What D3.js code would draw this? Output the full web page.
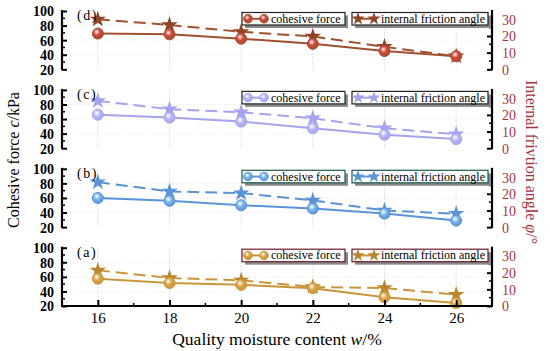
<!DOCTYPE html>
<html>
<head>
<meta charset="utf-8">
<script src="https://cdn.jsdelivr.net/npm/d3@7"></script>
<style>
  body { margin: 0; background: #fff; }
  svg { font-family: "Liberation Serif", "Times New Roman", serif; }
</style>
</head>
<body>
<svg width="550" height="351"></svg>
<script>
// moisture content (x)
var moisture = [16, 18, 20, 22, 24, 26];
var panelNames = ['(d)', '(c)', '(b)', '(a)'];

// cohesive force c/kPa, top panel to bottom panel
var cohesionD = [69, 68, 62, 55, 45, 38];
var cohesionC = [66, 62, 56.5, 47.5, 38.5, 32.5];
var cohesionB = [60, 56, 50, 45.5, 38.5, 29];
var cohesionA = [57.5, 51.5, 49, 44.5, 32, 24];

// internal friction angle, degrees
var frictionD = [30, 26.6, 22.5, 19.7, 13.5, 7.8];
var frictionC = [28.4, 23.4, 21.6, 18, 12, 8.4];
var frictionB = [27, 21.4, 20.4, 16, 10, 8];
var frictionA = [21.4, 16.8, 15.4, 11.4, 10.8, 6.8];

var leftTicks = [20, 40, 60, 80, 100];
var rightTicks = [0, 10, 20, 30];
var legendNames = ['cohesive force', 'internal friction angle'];

var panels = [
  {c: cohesionD, f: frictionD, line: '#a0502e', fill: '#d8453a', star: '#8e4526', box: '#222'},
  {c: cohesionC, f: frictionC, line: '#a4a4ee', fill: '#b8b8f6', star: '#a4a4ee', box: '#222'},
  {c: cohesionB, f: frictionB, line: '#5a94d6', fill: '#7ab6ec', star: '#5a94d6', box: '#1e5a4c'},
  {c: cohesionA, f: frictionA, line: '#c9953a', fill: '#d9a84a', star: '#b8862e', box: '#6a1c2c'}
];

var svg = d3.select('svg');
var left = 62, right = 492, panelH = 58.3, gap = 78.9, top0 = 11;
var red = '#a8323e';

var x = d3.scaleLinear().domain([15, 27]).range([left, right]);

var defs = svg.append('defs');
panels.forEach(function(p, i) {
  var g = defs.append('radialGradient').attr('id', 'grad' + i)
      .attr('cx', '40%').attr('cy', '35%').attr('r', '65%');
  g.append('stop').attr('offset', '0%').attr('stop-color', '#fff');
  g.append('stop').attr('offset', '45%').attr('stop-color', p.fill);
  g.append('stop').attr('offset', '100%').attr('stop-color', p.line);
});

var star = d3.symbol().type(d3.symbolStar).size(85);

panels.forEach(function(p, i) {
  var top = top0 + i * gap;
  var yL = d3.scaleLinear().domain([20, 100]).range([top + panelH, top]);
  var yR = d3.scaleLinear().domain([0, 35]).range([top + panelH, top]);
  var g = svg.append('g');

  // grid
  g.selectAll('.vg').data(moisture).enter().append('line')
      .attr('x1', function(d) { return x(d); }).attr('x2', function(d) { return x(d); })
      .attr('y1', top).attr('y2', top + panelH)
      .attr('stroke', '#c8c8c8').attr('stroke-width', 0.7).attr('stroke-dasharray', '1.5,1.5');
  g.selectAll('.hg').data([40, 60, 80]).enter().append('line')
      .attr('x1', left).attr('x2', right)
      .attr('y1', function(d) { return yL(d); }).attr('y2', function(d) { return yL(d); })
      .attr('stroke', '#e4e4e4').attr('stroke-width', 0.7).attr('stroke-dasharray', '1.5,1.5');

  // friction angle (dashed, stars)
  var lineF = d3.line().x(function(d, j) { return x(moisture[j]); }).y(function(d) { return yR(d); });
  g.append('path').datum(p.f).attr('d', lineF).attr('fill', 'none')
      .attr('stroke', p.line).attr('stroke-width', 2).attr('stroke-dasharray', '12,6');
  // cohesion (solid, circles)
  var lineC = d3.line().x(function(d, j) { return x(moisture[j]); }).y(function(d) { return yL(d); });
  g.append('path').datum(p.c).attr('d', lineC).attr('fill', 'none')
      .attr('stroke', p.line).attr('stroke-width', 2);

  g.selectAll('.st').data(p.f).enter().append('path')
      .attr('d', star)
      .attr('transform', function(d, j) { return 'translate(' + x(moisture[j]) + ',' + yR(d) + ')'; })
      .attr('fill', p.star);
  g.selectAll('.ci').data(p.c).enter().append('circle')
      .attr('cx', function(d, j) { return x(moisture[j]); })
      .attr('cy', function(d) { return yL(d); })
      .attr('r', 5.5).attr('fill', 'url(#grad' + i + ')')
      .attr('stroke', p.line).attr('stroke-width', 1);

  // left axis
  var axL = g.append('g').attr('transform', 'translate(' + left + ',0)')
      .call(d3.axisLeft(yL).tickValues(leftTicks).tickSize(-5).tickPadding(8));
  axL.select('.domain').attr('stroke-width', 2.2).attr('d', 'M0,' + (top - 1) + 'V' + (top + panelH + 1));
  axL.selectAll('.tick line').attr('stroke-width', 2);
  axL.selectAll('text').attr('font-size', 14).attr('font-family', '"Liberation Serif", serif')
      .attr('fill', '#000').attr('font-weight', 'bold').attr('dy', '0.35em');
  axL.selectAll('.mt').data([30, 50, 70, 90]).enter().append('line')
      .attr('x1', 0).attr('x2', 3).attr('y1', function(d) { return yL(d); }).attr('y2', function(d) { return yL(d); })
      .attr('stroke', '#000').attr('stroke-width', 1.5);

  // right axis
  var axR = g.append('g').attr('transform', 'translate(' + right + ',0)')
      .call(d3.axisRight(yR).tickValues(rightTicks).tickSize(-5).tickPadding(10));
  axR.select('.domain').attr('stroke-width', 2.2).attr('d', 'M0,' + (top - 1) + 'V' + (top + panelH + 1));
  axR.selectAll('.tick line').attr('stroke-width', 2);
  axR.selectAll('text').attr('font-size', 14).attr('font-family', '"Liberation Serif", serif')
      .attr('fill', red).attr('dy', '0.35em');
  axR.selectAll('.mt').data([5, 15, 25]).enter().append('line')
      .attr('x1', 0).attr('x2', -3).attr('y1', function(d) { return yR(d); }).attr('y2', function(d) { return yR(d); })
      .attr('stroke', '#000').attr('stroke-width', 1.5);

  // panel label
  g.append('text').attr('x', 77).attr('y', top + 9).attr('font-size', 14)
      .attr('letter-spacing', 1.5)
      .text(panelNames[i]);

  // legend boxes
  var boxes = [{x: 242, w: 103}, {x: 352, w: 136}];
  boxes.forEach(function(b, k) {
    var by = top + 1.5, bh = 12.5;
    g.append('rect').attr('x', b.x + 3).attr('y', by + 3).attr('width', b.w).attr('height', bh)
        .attr('fill', '#8a8a8a');
    g.append('rect').attr('x', b.x).attr('y', by).attr('width', b.w).attr('height', bh)
        .attr('fill', '#fff').attr('stroke', p.box).attr('stroke-width', 1.2);
    var cy = by + bh / 2;
    g.append('line').attr('x1', b.x + 6).attr('x2', b.x + 22).attr('y1', cy).attr('y2', cy)
        .attr('stroke', p.line).attr('stroke-width', 2);
    [b.x + 6, b.x + 22].forEach(function(mx) {
      if (k === 0) {
        g.append('circle').attr('cx', mx).attr('cy', cy).attr('r', 4.3)
            .attr('fill', 'url(#grad' + i + ')').attr('stroke', p.line).attr('stroke-width', 1);
      } else {
        g.append('path').attr('d', d3.symbol().type(d3.symbolStar).size(55))
            .attr('transform', 'translate(' + mx + ',' + cy + ')').attr('fill', p.star);
      }
    });
    g.append('text').attr('x', b.x + 29).attr('y', cy + 4).attr('font-size', 12).text(legendNames[k]);
  });
});

// bottom x axis
var bottom = top0 + 3 * gap + panelH;
var axX = svg.append('g').attr('transform', 'translate(0,' + bottom + ')')
    .call(d3.axisBottom(x).tickValues(moisture).tickSize(-6).tickPadding(6));
axX.select('.domain').attr('stroke-width', 2.2).attr('d', 'M' + left + ',0H' + right);
axX.selectAll('.tick line').attr('stroke-width', 2);
axX.selectAll('text').attr('font-size', 15).attr('font-family', '"Liberation Serif", serif').attr('fill', '#000');
axX.selectAll('.mt').data([17, 19, 21, 23, 25]).enter().append('line')
    .attr('x1', function(d) { return x(d); }).attr('x2', function(d) { return x(d); })
    .attr('y1', 0).attr('y2', -3).attr('stroke', '#000').attr('stroke-width', 1.5);

// axis titles
var tl = svg.append('text').attr('transform', 'translate(19,160) rotate(-90)')
    .attr('text-anchor', 'middle').attr('font-size', 16);
tl.append('tspan').text('Cohesive force ');
tl.append('tspan').attr('font-style', 'italic').text('c');
tl.append('tspan').text('/kPa');

var tr = svg.append('text').attr('transform', 'translate(526,162) rotate(90)')
    .attr('text-anchor', 'middle').attr('font-size', 16).attr('fill', red);
tr.append('tspan').text('Internal frivtion angle ');
tr.append('tspan').attr('font-style', 'italic').text('\u03C6');
tr.append('tspan').text('/\u00B0');

var tb = svg.append('text').attr('x', 277).attr('y', 345)
    .attr('text-anchor', 'middle').attr('font-size', 17.5);
tb.append('tspan').text('Quality moisture content ');
tb.append('tspan').attr('font-style', 'italic').text('w');
tb.append('tspan').text('/%');
</script>
</body>
</html>
